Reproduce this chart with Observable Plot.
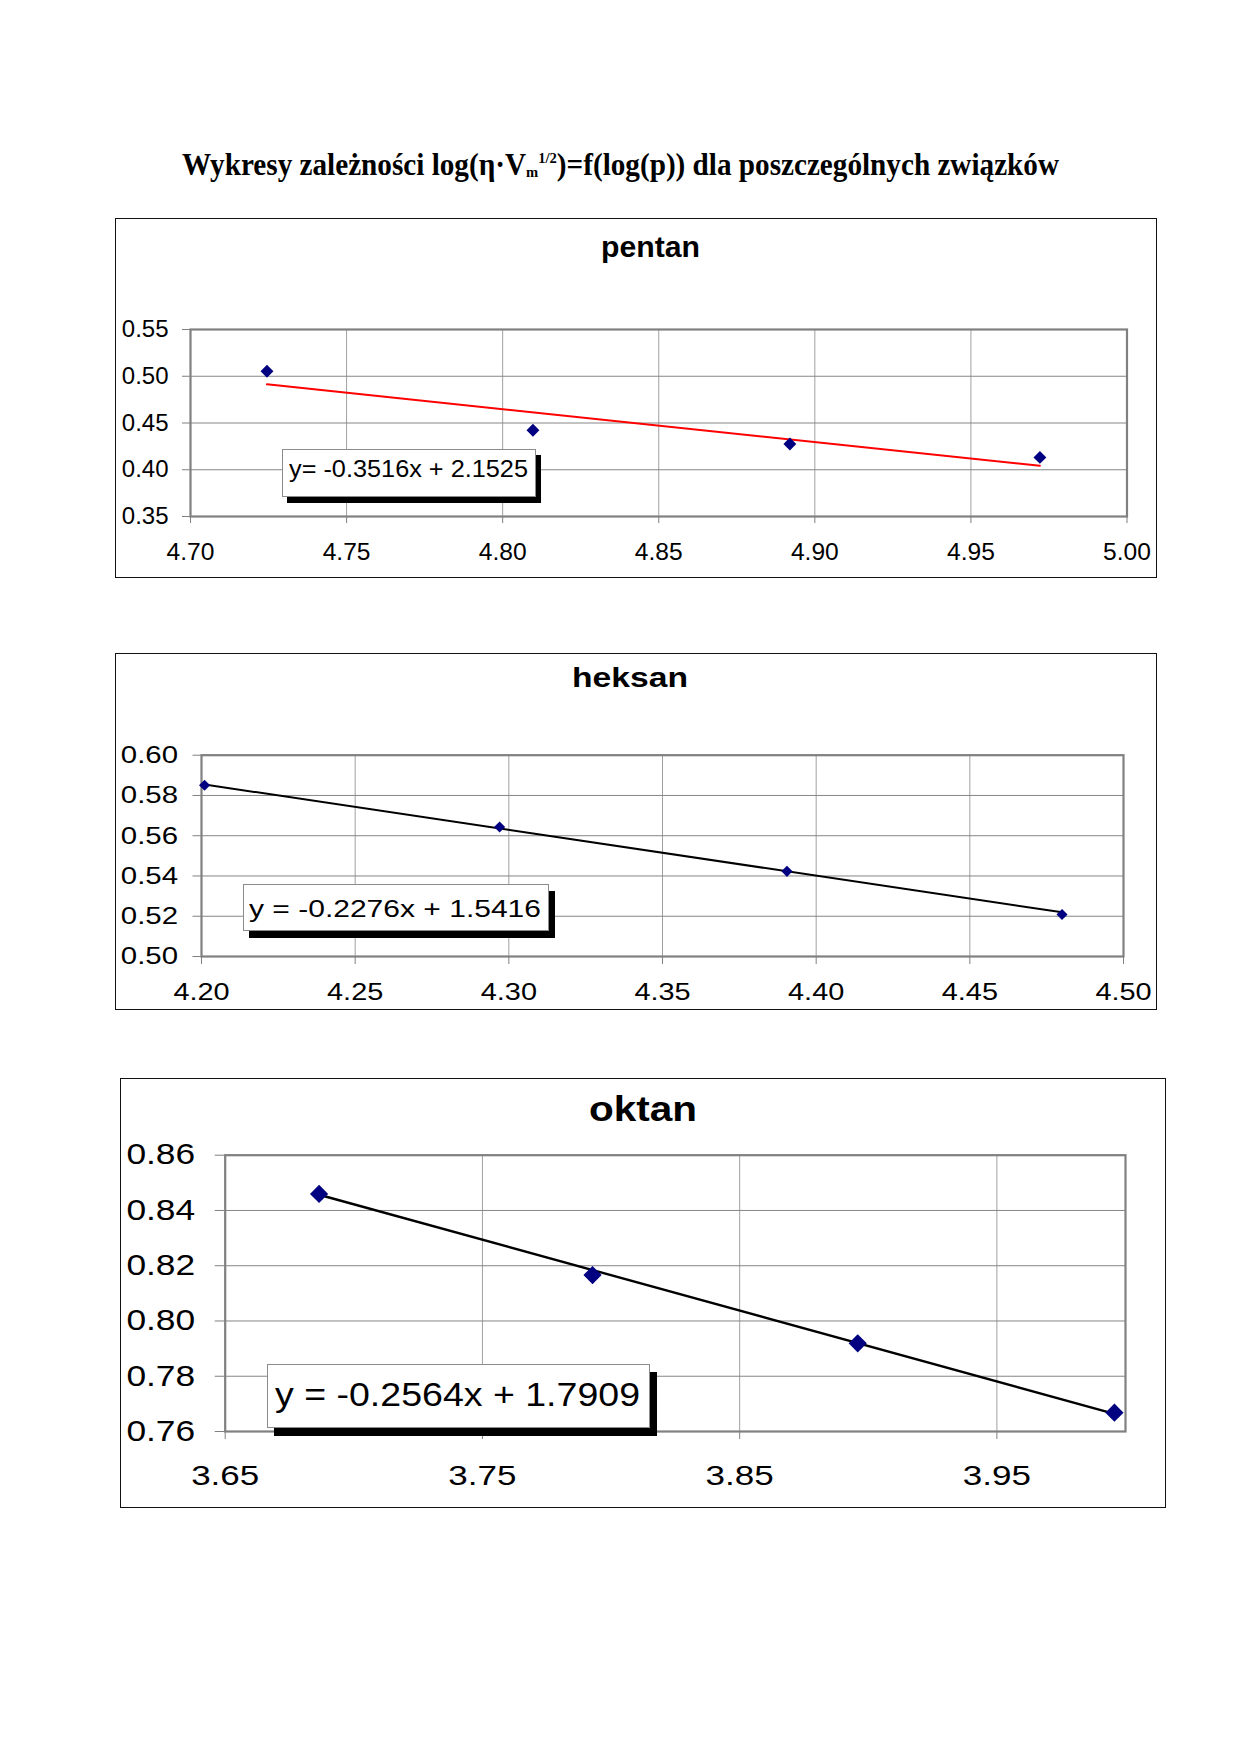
<!DOCTYPE html>
<html>
<head>
<meta charset="utf-8">
<script src="https://cdn.jsdelivr.net/npm/d3@7"></script>
<script src="https://cdn.jsdelivr.net/npm/@observablehq/plot@0.6"></script>
<style>
  html, body { margin: 0; padding: 0; background: #fff; }
  #page { position: relative; width: 1240px; height: 1754px; background: #fff; overflow: hidden; }
  .box { position: absolute; box-sizing: border-box; border: 1px solid #111; }
  .t { position: absolute; white-space: nowrap; transform-origin: 0 0; line-height: 1; color: #000; }
  .eq { position: absolute; box-sizing: border-box; border: 1px solid #8c8c8c; background: #fff; }
  .plotsvg { position: absolute; }
</style>
</head>
<body>
<div id="page"></div>
<script>
// ---------------- data ----------------
const pentanX = [4.7245, 4.8097, 4.8920, 4.9721];
const pentanY = [0.5053, 0.4423, 0.4275, 0.4132];
const heksanX = [4.2010, 4.2970, 4.3905, 4.4800];
const heksanY = [0.5851, 0.5643, 0.5423, 0.5209];
const oktanX  = [3.6865, 3.7928, 3.8959, 3.9957];
const oktanY  = [0.8460, 0.8166, 0.7919, 0.7668];

const trendSlopes     = [-0.3516, -0.2276, -0.2564];
const trendIntercepts = [2.1525, 1.5416, 1.7909];
const trendLabels     = ["y= -0.3516x + 2.1525", "y = -0.2276x + 1.5416", "y = -0.2564x + 1.7909"];
const chartTitles     = ["pentan", "heksan", "oktan"];
const mainTitleHtml   = 'Wykresy zależności log(η·V<span style="font-size:0.5em;vertical-align:-0.1em">m</span><span style="font-size:0.5em;vertical-align:0.8em">1/2</span>)=f(log(p)) dla poszczególnych związków';

const pentanXTicks = [4.70, 4.75, 4.80, 4.85, 4.90, 4.95, 5.00];
const pentanYTicks = [0.35, 0.40, 0.45, 0.50, 0.55];
const heksanXTicks = [4.20, 4.25, 4.30, 4.35, 4.40, 4.45, 4.50];
const heksanYTicks = [0.50, 0.52, 0.54, 0.56, 0.58, 0.60];
const oktanXTicks  = [3.65, 3.75, 3.85, 3.95];
const oktanYTicks  = [0.76, 0.78, 0.80, 0.82, 0.84, 0.86];
const oktanXDomainEnd = 4.00;

// ---------------- layout ----------------
const page = document.getElementById("page");

function placeText(html, o) {
  const el = document.createElement("span");
  el.className = "t";
  el.innerHTML = html;
  el.style.fontSize = o.fontSize + "px";
  el.style.fontFamily = o.family || "'Liberation Sans', Arial, sans-serif";
  el.style.fontWeight = o.weight || "normal";
  el.style.left = "0px";
  el.style.top = "0px";
  const marker = document.createElement("span");
  marker.style.display = "inline-block";
  marker.style.width = "0px";
  marker.style.height = "0px";
  marker.style.verticalAlign = "baseline";
  el.appendChild(marker);
  page.appendChild(el);
  const r = el.getBoundingClientRect();
  const baseOff = marker.getBoundingClientRect().top - r.top;
  const s = o.width / r.width;
  el.style.transform = `scaleX(${s})`;
  const left = o.cx != null ? o.cx - o.width / 2 : o.left;
  el.style.left = left + "px";
  el.style.top = (o.baseline - baseOff) + "px";
  return el;
}

function addBox(l, t, r, b) {
  const d = document.createElement("div");
  d.className = "box";
  d.style.left = l + "px"; d.style.top = t + "px";
  d.style.width = (r - l) + "px"; d.style.height = (b - t) + "px";
  page.appendChild(d);
}

function stretchTicks(svg, sxX, sxY) {
  svg.querySelectorAll("text").forEach(t => {
    const g = t.closest("g[aria-label]");
    const lab = g ? g.getAttribute("aria-label") : "";
    const sx = lab.includes("y-axis") ? sxY : sxX;
    const tr = t.getAttribute("transform");
    if (tr && tr.includes("translate")) {
      t.setAttribute("transform", tr + ` scale(${sx},1)`);
    } else {
      const x = +(t.getAttribute("x") || 0);
      t.setAttribute("transform", `translate(${x},0) scale(${sx},1) translate(${-x},0)`);
    }
  });
}

function makeChart(c) {
  addBox(c.box[0], c.box[1], c.box[2], c.box[3]);
  placeText(c.title, {cx: c.titleCx, baseline: c.titleBase, width: c.titleW, fontSize: c.titleFs, weight: "bold"});

  const pts = c.xs.map((x, i) => ({x, y: c.ys[i]}));
  const x0 = d3.min(c.xs), x1 = d3.max(c.xs);
  const trend = [x0, x1].map(x => ({x, y: c.slope * x + c.intercept}));
  const fmt = d3.format(".2f");

  const svg = Plot.plot({
    width: c.svg[2] - c.svg[0],
    height: c.svg[3] - c.svg[1],
    marginLeft: c.plot[0] - c.svg[0],
    marginTop: c.plot[1] - c.svg[1],
    marginRight: c.svg[2] - c.plot[2],
    marginBottom: c.svg[3] - c.plot[3],
    style: {fontFamily: "'Liberation Sans', Arial, sans-serif", color: "#000", background: "transparent", overflow: "visible"},
    x: {domain: c.xDomain},
    y: {domain: c.yDomain},
    marks: [
      Plot.gridX(c.xTicks, {stroke: "#a0a0a0", strokeOpacity: 1, strokeWidth: 1}),
      Plot.gridY(c.yTicks, {stroke: "#868686", strokeOpacity: 1, strokeWidth: 1}),
      Plot.frame({stroke: "#808080", strokeWidth: 2.2}),
      Plot.axisX(c.xTicks, {tickSize: c.xTick[0], tickPadding: c.xTick[1], tickFormat: fmt, fontSize: c.xFs, stroke: "#808080", fill: "#000", label: null}),
      Plot.axisY(c.yTicks, {tickSize: c.yTick[0], tickPadding: c.yTick[1], tickFormat: fmt, fontSize: c.yFs, stroke: "#808080", fill: "#000", label: null}),
      Plot.line(trend, {x: "x", y: "y", stroke: c.lineColor, strokeWidth: c.lineW}),
      Plot.dot(pts, {x: "x", y: "y", symbol: "diamond2", r: c.r, fill: "#000080", stroke: "none"})
    ]
  });
  svg.classList.add("plotsvg");
  svg.style.left = c.svg[0] + "px";
  svg.style.top = c.svg[1] + "px";
  page.appendChild(svg);
  stretchTicks(svg, c.xSx, c.ySx);

  const e = c.eq;
  const eb = document.createElement("div");
  eb.className = "eq";
  eb.style.left = e.box[0] + "px"; eb.style.top = e.box[1] + "px";
  eb.style.width = (e.box[2] - e.box[0]) + "px"; eb.style.height = (e.box[3] - e.box[1]) + "px";
  eb.style.boxShadow = e.shadow;
  page.appendChild(eb);
  placeText(c.label, {left: e.textLeft, baseline: e.baseline, width: e.textW, fontSize: e.fs});
}

placeText(mainTitleHtml, {cx: 620, baseline: 175, width: 877, fontSize: 31, weight: "bold",
  family: "'Liberation Serif', 'Times New Roman', serif"});

makeChart({
  title: chartTitles[0], titleCx: 650, titleBase: 256.5, titleW: 99, titleFs: 30,
  box: [115, 218, 1157, 578],
  svg: [116, 270, 1156, 577],
  plot: [190, 329, 1126.5, 516],
  xs: pentanX, ys: pentanY, slope: trendSlopes[0], intercept: trendIntercepts[0], label: trendLabels[0],
  xDomain: [pentanXTicks[0], pentanXTicks[pentanXTicks.length - 1]],
  yDomain: [pentanYTicks[0], pentanYTicks[pentanYTicks.length - 1]],
  xTicks: pentanXTicks, yTicks: pentanYTicks,
  xTick: [7, 20], yTick: [8, 14], xFs: 23, yFs: 24, xSx: 1.07, ySx: 1.0,
  lineColor: "#ff0000", lineW: 2, r: 5.8,
  eq: {box: [282, 449, 536, 497], shadow: "5px 6px 0 #000", textLeft: 288.5, baseline: 477.3, textW: 239, fs: 24}
});

makeChart({
  title: chartTitles[1], titleCx: 630, titleBase: 687, titleW: 116, titleFs: 27,
  box: [115, 653, 1157, 1010],
  svg: [116, 696, 1156, 1009],
  plot: [201, 754.7, 1123, 956],
  xs: heksanX, ys: heksanY, slope: trendSlopes[1], intercept: trendIntercepts[1], label: trendLabels[1],
  xDomain: [heksanXTicks[0], heksanXTicks[heksanXTicks.length - 1]],
  yDomain: [heksanYTicks[0], heksanYTicks[heksanYTicks.length - 1]],
  xTicks: heksanXTicks, yTicks: heksanYTicks,
  xTick: [8, 19], yTick: [8.5, 15], xFs: 23.5, yFs: 24.5, xSx: 1.23, ySx: 1.2,
  lineColor: "#000", lineW: 2, r: 5.0,
  eq: {box: [243, 884, 549, 931], shadow: "6px 7px 0 #000", textLeft: 249, baseline: 917, textW: 292, fs: 24.5}
});

makeChart({
  title: chartTitles[2], titleCx: 643, titleBase: 1121, titleW: 108, titleFs: 35,
  box: [120, 1078, 1166, 1508],
  svg: [121, 1128, 1165, 1507],
  plot: [224.7, 1154.7, 1125, 1431],
  xs: oktanX, ys: oktanY, slope: trendSlopes[2], intercept: trendIntercepts[2], label: trendLabels[2],
  xDomain: [oktanXTicks[0], oktanXDomainEnd],
  yDomain: [oktanYTicks[0], oktanYTicks[oktanYTicks.length - 1]],
  xTicks: oktanXTicks, yTicks: oktanYTicks,
  xTick: [8, 26], yTick: [10, 20], xFs: 28, yFs: 29, xSx: 1.25, ySx: 1.22,
  lineColor: "#000", lineW: 2.4, r: 8.2,
  eq: {box: [267, 1364, 650, 1428], shadow: "7px 8px 0 #000", textLeft: 274.5, baseline: 1406, textW: 365, fs: 34}
});
</script>
</body>
</html>
